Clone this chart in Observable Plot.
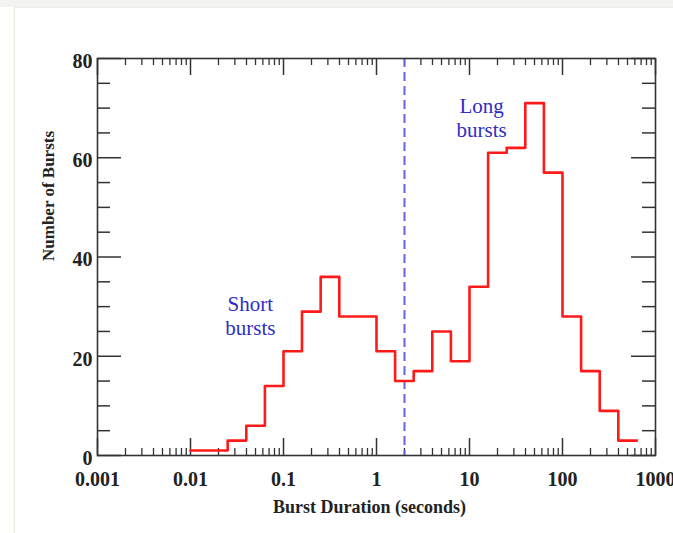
<!DOCTYPE html>
<html>
<head>
<meta charset="utf-8">
<script src="https://cdn.jsdelivr.net/npm/d3@7"></script>
<script src="https://cdn.jsdelivr.net/npm/@observablehq/plot@0.6"></script>
<style>
  html, body { margin: 0; padding: 0; background: #ffffff; }
  #wrap { position: relative; width: 673px; height: 533px; overflow: hidden; }
  #strip { position: absolute; left: 0; top: 0; width: 673px; height: 7px; background: #f3f4f2; }
  #card { position: absolute; left: 14px; top: 7px; width: 659px; height: 526px; border-left: 1px solid #e3ecdc; border-top: 1px solid #eef0ec; background: #fff; }
  #chart { position: absolute; left: 0; top: 0; }
</style>
</head>
<body>
<div id="wrap"><div id="strip"></div><div id="card"></div><div id="chart"></div></div>
<script>
// Bin edges (seconds) and counts of the burst-duration histogram
const binEdges = [0.01, 0.0158, 0.0251, 0.0398, 0.0631, 0.1, 0.158, 0.251, 0.398, 0.631,
                  1, 1.585, 2.512, 3.981, 6.31, 10, 15.85, 25.12, 39.81, 63.1,
                  100, 158.5, 251.2, 398.1, 631];
const counts = [1, 1, 3, 6, 14, 21, 29, 36, 28, 28,
                21, 15, 17, 25, 19, 34, 61, 62, 71, 57,
                28, 17, 9, 3];

const xTickValues = [0.001, 0.01, 0.1, 1, 10, 100, 1000];
const xTickLabels = ["0.001", "0.01", "0.1", "1", "10", "100", "1000"];
const yTickValues = [0, 20, 40, 60, 80];
const yMinorValues = [5, 10, 15, 25, 30, 35, 45, 50, 55, 65, 70, 75];
const dividerValue = [2];
const annotations = [
  {label: "Short\nbursts", x: 0.044, y: 28.2},
  {label: "Long\nbursts", x: 13.5, y: 68.1}
];
const xTitle = "Burst Duration (seconds)";
const yTitle = "Number of Bursts";

// step line data: each bin start with its count, plus the final edge
const steps = counts.map((c, i) => ({x: binEdges[i], y: c}));
steps.push({x: binEdges[binEdges.length - 1], y: counts[counts.length - 1]});

const W = 673, H = 533, mL = 97, mR = 18, mT = 58, mB = 78;
const fw = W - mL - mR, fh = H - mT - mB;
const xMinor = d3.scaleLog().domain([0.001, 1000]).ticks().filter(v => !xTickValues.includes(v));

const serif = "'Liberation Serif', 'Times New Roman', serif";
const axisColor = "#333";

const chart = Plot.plot({
  width: W, height: H,
  marginLeft: mL, marginRight: mR, marginTop: mT, marginBottom: mB,
  style: {fontFamily: serif, background: "transparent", overflow: "visible"},
  x: {type: "log", domain: [0.001, 1000]},
  y: {domain: [0, 80]},
  marks: [
    // minor/major ticks, all four sides, pointing inward
    Plot.tickX(xMinor, {x: d => d, insetTop: fh - 7, stroke: axisColor, strokeWidth: 1.3}),
    Plot.tickX(xMinor, {x: d => d, insetBottom: fh - 7, stroke: axisColor, strokeWidth: 1.3}),
    Plot.tickX(xTickValues, {x: d => d, insetTop: fh - 17, stroke: axisColor, strokeWidth: 1.5}),
    Plot.tickX(xTickValues, {x: d => d, insetBottom: fh - 17, stroke: axisColor, strokeWidth: 1.5}),
    Plot.tickY(yMinorValues, {y: d => d, insetRight: fw - 13, stroke: axisColor, strokeWidth: 1.5}),
    Plot.tickY(yMinorValues, {y: d => d, insetLeft: fw - 13, stroke: axisColor, strokeWidth: 1.5}),
    Plot.tickY(yTickValues, {y: d => d, insetRight: fw - 24, stroke: axisColor, strokeWidth: 1.5}),
    Plot.tickY(yTickValues, {y: d => d, insetLeft: fw - 24, stroke: axisColor, strokeWidth: 1.5}),
    // tick labels
    Plot.axisX({ticks: xTickValues, tickSize: 0, tickPadding: 16, tickFormat: d => xTickLabels[xTickValues.indexOf(d)],
      fontSize: 20, fontWeight: "bold", fill: "#222", label: null}),
    Plot.axisY({ticks: yTickValues, tickSize: 0, tickPadding: 5, dy: 3,
      fontSize: 20, fontWeight: "bold", fill: "#222", label: null}),
    // divider
    Plot.ruleX(dividerValue, {stroke: "#6464e0", strokeWidth: 2, strokeDasharray: "9,5"}),
    // histogram
    Plot.line(steps, {x: "x", y: "y", curve: "step-after", stroke: "#ff1a1a", strokeWidth: 2.6}),
    // annotations
    Plot.text(annotations, {x: "x", y: "y", text: "label", fill: "#2e2ec4", fontSize: 21, lineHeight: 1.1, fontFamily: serif}),
    // axis titles
    Plot.text([xTitle], {frameAnchor: "bottom", dx: -7, dy: 57, fontSize: 18, fontWeight: "bold", fill: "#222"}),
    Plot.text([yTitle], {frameAnchor: "left", rotate: -90, dx: -49, dy: 4, fontSize: 17, fontWeight: "bold", fill: "#222"}),
    Plot.frame({stroke: axisColor, strokeWidth: 1.6})
  ]
});
document.getElementById("chart").appendChild(chart);
</script>
</body>
</html>
